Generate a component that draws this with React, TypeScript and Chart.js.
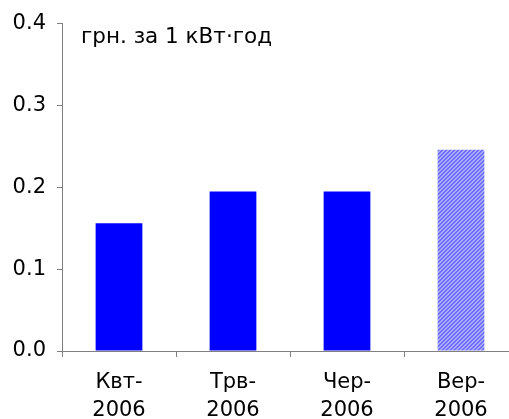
import React, { useEffect, useRef } from "react";
import { Chart, registerables } from "chart.js";

Chart.register(...registerables);

const categories: string[][] = [
  ["Квт-", "2006"],
  ["Трв-", "2006"],
  ["Чер-", "2006"],
  ["Вер-", "2006"],
];
const values: number[] = [0.156, 0.195, 0.195, 0.246];
const unitLabel = "грн. за 1 кВт·год";
const yMin = 0;
const yMax = 0.4;
const yStep = 0.1;

const FONT = "DejaVu Sans, Verdana, sans-serif";

function makePattern(): CanvasPattern | string {
  const c = document.createElement("canvas");
  c.width = 4;
  c.height = 4;
  const ctx = c.getContext("2d");
  if (!ctx) return "#8080ff";
  ctx.fillStyle = "#acacff";
  ctx.fillRect(0, 0, 4, 4);
  ctx.fillStyle = "#6c6cff";
  for (let i = 0; i < 4; i++) {
    ctx.fillRect((3 - i + 4) % 4, i, 1, 1);
    ctx.fillRect((4 - i + 4) % 4, i, 1, 1);
  }
  const p = ctx.createPattern(c, "repeat");
  return p || "#8080ff";
}

export default function App() {
  const ref = useRef<HTMLCanvasElement | null>(null);

  useEffect(() => {
    document.body.style.margin = "0";
    const canvas = ref.current;
    if (!canvas) return;
    const pattern = makePattern();
    const colors = values.map((_, i) => (i === values.length - 1 ? pattern : "#0000ff"));

    const unitPlugin = {
      id: "unitLabel",
      afterDraw(chart: any) {
        const { ctx, chartArea } = chart;
        ctx.save();
        ctx.font = `21.5px ${FONT}`;
        ctx.fillStyle = "#000000";
        ctx.textAlign = "left";
        ctx.textBaseline = "middle";
        ctx.fillText(unitLabel, chartArea.left + 19, chartArea.top + 14);
        ctx.restore();
      },
    };

    const chart = new Chart(canvas, {
      type: "bar",
      data: {
        labels: categories,
        datasets: [
          {
            data: values,
            backgroundColor: colors as any,
            borderWidth: 0,
            barPercentage: 0.41,
            categoryPercentage: 1,
          },
        ],
      },
      options: {
        animation: false,
        responsive: false,
        maintainAspectRatio: false,
        layout: { padding: { top: 20, left: 0, right: 0, bottom: 0 } },
        plugins: {
          legend: { display: false },
          tooltip: { enabled: false },
          title: { display: false },
        },
        scales: {
          x: {
            grid: {
              display: true,
              drawOnChartArea: false,
              offset: true,
              tickLength: 6,
              color: "#808080",
            },
            border: { display: true, color: "#808080", width: 1 },
            ticks: {
              font: { family: FONT, size: 21, lineHeight: 1.34 },
              color: "#000000",
              padding: 11,
              maxRotation: 0,
              autoSkip: false,
            },
            afterFit: (s: any) => {
              s.height = 68;
            },
          },
          y: {
            min: yMin,
            max: yMax,
            grid: {
              display: true,
              drawOnChartArea: false,
              tickLength: 5,
              color: "#808080",
            },
            border: { display: true, color: "#808080", width: 1 },
            ticks: {
              stepSize: yStep,
              font: { family: FONT, size: 21 },
              color: "#000000",
              padding: 11,
              callback: (v: any) => Number(v).toFixed(1),
            },
            afterFit: (s: any) => {
              s.width = 62;
            },
          },
        },
      },
      plugins: [unitPlugin],
    });
    return () => chart.destroy();
  }, []);

  return (
    <div style={{ position: "fixed", left: 0, top: 0, width: 509, height: 419, overflow: "hidden", background: "#fff" }}>
      <canvas ref={ref} width={518} height={419} style={{ display: "block", width: 518, height: 419 }} />
    </div>
  );
}
